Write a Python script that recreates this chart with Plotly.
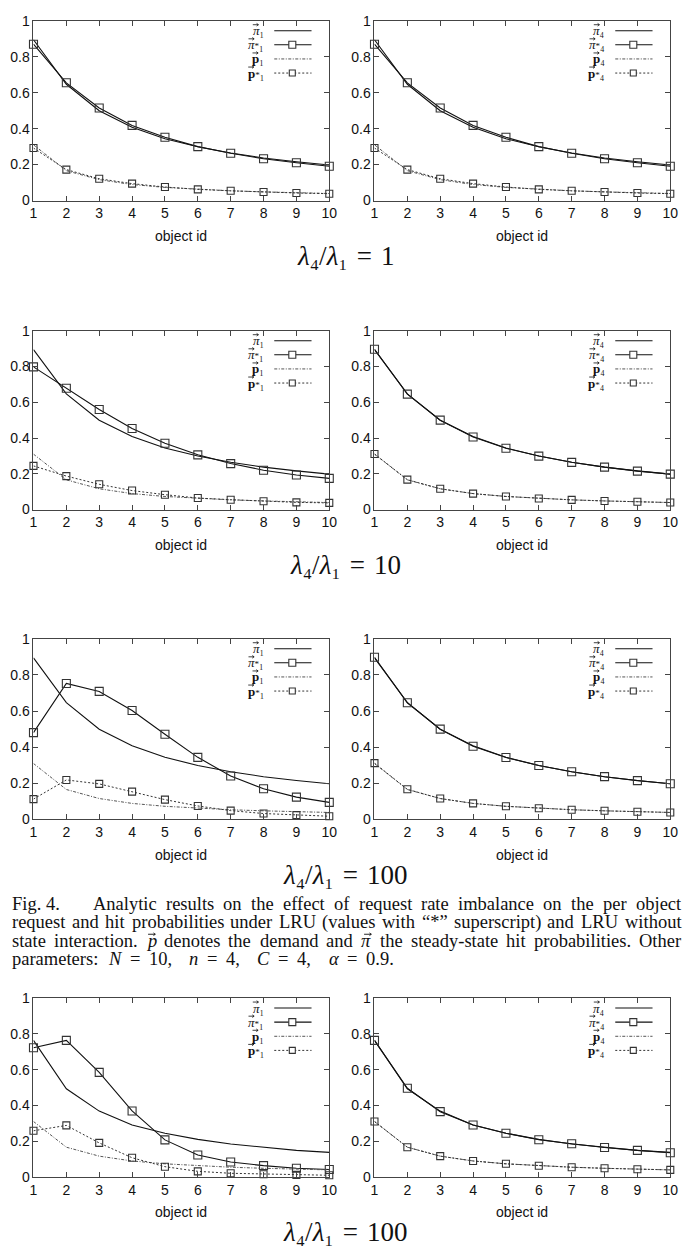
import plotly.graph_objects as go

# ---------------- data ----------------
object_ids = [1, 2, 3, 4, 5, 6, 7, 8, 9, 10]
x_ticks = [1, 2, 3, 4, 5, 6, 7, 8, 9, 10]
y_ticks = [0, 0.2, 0.4, 0.6, 0.8, 1]
y_tick_text = ["0", "0.2", "0.4", "0.6", "0.8", "1"]

# demand without state interaction (same in every panel)
p_plain = [0.310, 0.166, 0.116, 0.089, 0.073, 0.062, 0.054, 0.048, 0.043, 0.039]
# hit probabilities without state interaction
pi_plain = [0.895, 0.647, 0.500, 0.408, 0.344, 0.299, 0.264, 0.237, 0.216, 0.198]
pi_plain_b = [0.764, 0.493, 0.368, 0.290, 0.244, 0.210, 0.184, 0.164, 0.148, 0.137]

# row 1: lambda4/lambda1 = 1
r1_pi1_star = [0.870, 0.655, 0.515, 0.418, 0.352, 0.300, 0.263, 0.232, 0.210, 0.191]
r1_p1_star = [0.292, 0.172, 0.121, 0.094, 0.075, 0.062, 0.054, 0.047, 0.042, 0.038]
r1_pi4_star = [0.870, 0.655, 0.515, 0.418, 0.352, 0.300, 0.263, 0.232, 0.210, 0.191]
r1_p4_star = [0.292, 0.172, 0.121, 0.094, 0.075, 0.062, 0.054, 0.047, 0.042, 0.038]
# row 2: lambda4/lambda1 = 10
r2_pi1_star = [0.798, 0.679, 0.560, 0.453, 0.371, 0.306, 0.257, 0.220, 0.193, 0.174]
r2_p1_star = [0.244, 0.187, 0.141, 0.106, 0.083, 0.064, 0.055, 0.046, 0.040, 0.037]
r2_pi4_star = [0.897, 0.646, 0.500, 0.406, 0.343, 0.299, 0.264, 0.237, 0.215, 0.198]
r2_p4_star = [0.311, 0.167, 0.116, 0.089, 0.073, 0.062, 0.054, 0.048, 0.043, 0.039]
# row 3: lambda4/lambda1 = 100
r3_pi1_star = [0.481, 0.753, 0.709, 0.603, 0.472, 0.344, 0.241, 0.170, 0.124, 0.095]
r3_p1_star = [0.113, 0.219, 0.197, 0.154, 0.110, 0.075, 0.049, 0.033, 0.024, 0.018]
r3_pi4_star = [0.898, 0.646, 0.500, 0.405, 0.343, 0.299, 0.264, 0.237, 0.215, 0.198]
r3_p4_star = [0.312, 0.167, 0.116, 0.089, 0.073, 0.062, 0.054, 0.048, 0.043, 0.039]
# row 4: lambda4/lambda1 = 100 (second figure)
r4_pi1_star = [0.723, 0.764, 0.585, 0.369, 0.207, 0.122, 0.083, 0.063, 0.048, 0.041]
r4_p1_star = [0.258, 0.288, 0.190, 0.107, 0.057, 0.031, 0.020, 0.015, 0.011, 0.009]
r4_pi4_star = [0.764, 0.496, 0.365, 0.290, 0.244, 0.208, 0.185, 0.164, 0.148, 0.135]
r4_p4_star = [0.310, 0.166, 0.116, 0.089, 0.073, 0.062, 0.054, 0.048, 0.043, 0.039]

row_captions = ["1", "10", "100", "100"]

SUB = {"1": "\u2081", "4": "\u2084"}
panels = [
    ("1", pi_plain, r1_pi1_star, p_plain, r1_p1_star),
    ("4", pi_plain, r1_pi4_star, p_plain, r1_p4_star),
    ("1", pi_plain, r2_pi1_star, p_plain, r2_p1_star),
    ("4", pi_plain, r2_pi4_star, p_plain, r2_p4_star),
    ("1", pi_plain, r3_pi1_star, p_plain, r3_p1_star),
    ("4", pi_plain, r3_pi4_star, p_plain, r3_p4_star),
    ("1", pi_plain_b, r4_pi1_star, p_plain, r4_p1_star),
    ("4", pi_plain_b, r4_pi4_star, p_plain, r4_p4_star),
]

caption_lines = [
    "Fig. 4.|Analytic results on the effect of request rate imbalance on the per object",
    "request and hit probabilities under LRU (values with \u201c*\u201d superscript) and LRU without",
    "state interaction. @p denotes the demand and @\u03c0 the steady-state hit probabilities. Other",
]
caption_last = ["parameters:", "%N", "=", "10,", "%n", "=", "4,", "%C", "=", "4,",
                "%\u03b1", "=", "0.9."]
caption_last_gapw = [1.3, 1, 1, 2, 1, 1, 2, 1, 1, 2, 1, 1]

# ---------------- layout geometry ----------------
W, H = 694, 1252
row_top = [13, 327, 639, 1003]
row_bot = [195, 508, 822, 1184]
col_lr = [(30, 331), (377, 678)]

SANS = "Liberation Sans, Arial, Helvetica, sans-serif"
SERIF = "Liberation Serif, Times New Roman, serif"
AXC = "#444"
INK = "#111"

def py(px):
    return 1 - px / H

def vec_arrow_path(cx, cy, half):
    """small vector arrow (pixel coords relative to an anchor)"""
    h = half
    return (f"M {cx - h:.2f} {cy:.2f} L {cx + h:.2f} {cy:.2f} "
            f"M {cx + h - 1.8:.2f} {cy + 1.3:.2f} L {cx + h:.2f} {cy:.2f} "
            f"L {cx + h - 1.8:.2f} {cy - 1.3:.2f}")

fig = go.Figure()

STY = {
    "pi": dict(mode="lines", line=dict(color=INK, width=1.1)),
    "pis": dict(mode="lines+markers", line=dict(color=INK, width=1.1),
                marker=dict(symbol="square-open", size=8, color="#333",
                            line=dict(width=1.1, color="#333"))),
    "p": dict(mode="lines", line=dict(color="#555", width=1, dash="3px,1.5px,1px,1.5px")),
    "ps": dict(mode="lines+markers", line=dict(color="#333", width=1, dash="2px,2px"),
               marker=dict(symbol="square-open", size=7, color="#333",
                           line=dict(width=1.1, color="#333"))),
}

shapes = []
annotations = []

def ann(**kw):
    base = dict(showarrow=False, borderpad=0, borderwidth=0)
    base.update(kw)
    annotations.append(base)

LEG_X = 0.778
for k, (sub, pi_a, pis_a, p_a, ps_a) in enumerate(panels):
    r, c = divmod(k, 2)
    idx = k + 1
    xa = "x" if idx == 1 else f"x{idx}"
    ya = "y" if idx == 1 else f"y{idx}"
    for key, ys in (("pi", pi_a), ("pis", pis_a), ("p", p_a), ("ps", ps_a)):
        fig.add_trace(go.Scatter(x=object_ids, y=ys, xaxis=xa, yaxis=ya,
                                 showlegend=False, cliponaxis=False, **STY[key]))
    l, rr = col_lr[c]
    axcommon = dict(showline=True, linecolor=AXC, linewidth=1, mirror="allticks",
                    ticks="inside", ticklen=5, tickcolor=AXC, showgrid=False,
                    zeroline=False, tickfont=dict(family=SANS, size=14, color=INK))
    fig.layout[("xaxis" if idx == 1 else f"xaxis{idx}")] = dict(
        domain=[l / W, rr / W], range=[1, 10], tickvals=x_ticks,
        anchor=ya, **axcommon)
    fig.layout[("yaxis" if idx == 1 else f"yaxis{idx}")] = dict(
        domain=[py(row_bot[r]), py(row_top[r])], range=[0, 1],
        tickvals=y_ticks, ticktext=y_tick_text, anchor=xa, **axcommon)

    ph = row_bot[r] - row_top[r]
    xd, yd_ref = f"{xa} domain", f"{ya} domain"
    # x-axis title
    ann(text="object id", xref=xd, yref=yd_ref, x=0.5, y=-36 / ph,
        xanchor="center", yanchor="middle", font=dict(family=SANS, size=14, color=INK))

    # legend (gnuplot style: label right-aligned, sample to the right)
    star = '<span style="font-size:9px">*</span>'
    labels = {
        "pi": (f"<i>\u03c0</i>{SUB[sub]}", -8.0),
        "pis": (f"<i>\u03c0</i>{star}{SUB[sub]}", -12.3),
        "p": (f"<b>p</b>{SUB[sub]}", -8.3),
        "ps": (f"<b>p</b>{star}{SUB[sub]}", -12.6),
    }
    for j, key in enumerate(["pi", "pis", "p", "ps"]):
        yd = 1 - (10 + 14.3 * j) / ph
        text, arrow_dx = labels[key]
        ann(text=text, xref=xd, yref=yd_ref, x=LEG_X, y=yd,
            xanchor="right", yanchor="middle",
            font=dict(family=SERIF, size=13, color=INK))
        shapes.append(dict(type="path", xref=xd, yref=yd_ref,
                           xsizemode="pixel", ysizemode="pixel",
                           xanchor=LEG_X, yanchor=yd,
                           path=vec_arrow_path(arrow_dx, 6.0, 2.8),
                           line=dict(color=INK, width=0.8)))
        ln = STY[key]["line"]
        shapes.append(dict(type="line", xref=xd, yref=yd_ref,
                           x0=0.814, x1=0.940, y0=yd, y1=yd,
                           line=dict(color=ln["color"], width=ln["width"],
                                     dash=ln.get("dash", "solid"))))
        if key in ("pis", "ps"):
            s = 3.5 if key == "pis" else 3
            shapes.append(dict(type="rect", xref=xd, yref=yd_ref,
                               xsizemode="pixel", ysizemode="pixel",
                               xanchor=0.875, yanchor=yd, x0=-s, x1=s, y0=-s, y1=s,
                               fillcolor="white", line=dict(color="#333", width=1.1)))

# row captions lambda4/lambda1 = ...
for r, val in enumerate(row_captions):
    ann(text=f"<i>\u03bb</i>\u2084/<i>\u03bb</i>\u2081&#8202; = &#8202;{val}",
        xref="paper", yref="paper", x=0.5, y=py(row_bot[r] + 56),
        xanchor="center", yanchor="middle",
        font=dict(family=SERIF, size=27, color=INK))

# ---------------- figure caption (justified) ----------------
TW = {' ': 250, '.': 250, ',': 250, ':': 278, '(': 333, ')': 333, '*': 500,
      '\u201c': 444, '\u201d': 444, '-': 333, '=': 564, '\u03c0': 520, '\u03b1': 520,
      'A': 722, 'C': 667, 'F': 556, 'L': 611, 'N': 722, 'O': 722, 'R': 667, 'U': 722,
      'a': 444, 'b': 500, 'c': 444, 'd': 500, 'e': 444, 'f': 333, 'g': 500, 'h': 500,
      'i': 278, 'j': 278, 'k': 500, 'l': 278, 'm': 778, 'n': 500, 'o': 500, 'p': 500,
      'q': 500, 'r': 333, 's': 389, 't': 278, 'u': 500, 'v': 500, 'w': 722, 'x': 500,
      'y': 500, 'z': 444}
for dgt in "0123456789":
    TW[dgt] = 500

CAP_FS = 18.5
CAP_L, CAP_R = 8, 688
cap_base = [913, 931.7, 950.4, 969]

def tw(s):
    return sum(TW.get(ch, 500) for ch in s) * CAP_FS / 1000

def place_tokens(toks, x_left, x_right, base_px, gap_w):
    plain = [t.lstrip("@%") for t in toks]
    widths = [tw(t) for t in plain]
    unit = (x_right - x_left - sum(widths)) / sum(gap_w)
    x = x_left
    ycen = py(base_px - 5.5)
    for ti, t in enumerate(toks):
        if t.startswith("@") or t.startswith("%"):
            html = f"<i>{t[1:]}</i>"
        else:
            html = t
        if t.startswith("@"):
            # vector arrow above the symbol
            shapes.append(dict(type="path", xref="paper", yref="paper",
                               xsizemode="pixel", ysizemode="pixel",
                               xanchor=x / W, yanchor=py(base_px),
                               path=vec_arrow_path(widths[ti] / 2 + 1.5, 12.0, 3.6),
                               line=dict(color=INK, width=0.9)))
        ann(text=html, xref="paper", yref="paper", x=x / W, y=ycen,
            xanchor="left", yanchor="middle",
            font=dict(family=SERIF, size=CAP_FS, color=INK))
        if ti < len(gap_w):
            x += widths[ti] + unit * gap_w[ti]

for li, line in enumerate(caption_lines):
    if "|" in line:
        head, rest = line.split("|")
        toks = [head] + rest.split(" ")
        gw = [3.5] + [1] * (len(toks) - 2)
    else:
        toks = line.split(" ")
        gw = [1] * (len(toks) - 1)
    place_tokens(toks, CAP_L, CAP_R, cap_base[li], gw)

place_tokens(caption_last, CAP_L, 396, cap_base[3], caption_last_gapw)

fig.update_layout(width=W, height=H, margin=dict(l=0, r=0, t=0, b=0),
                  paper_bgcolor="white", plot_bgcolor="white",
                  shapes=shapes, annotations=annotations, showlegend=False)

fig.write_html("out.html", config={"displayModeBar": False})

# remove the default page margin so the figure sits at the window origin
with open("out.html", encoding="utf-8") as fh:
    html_doc = fh.read()
html_doc = html_doc.replace("<head>", "<head><style>html,body{margin:0;padding:0;}</style>", 1)
with open("out.html", "w", encoding="utf-8") as fh:
    fh.write(html_doc)
